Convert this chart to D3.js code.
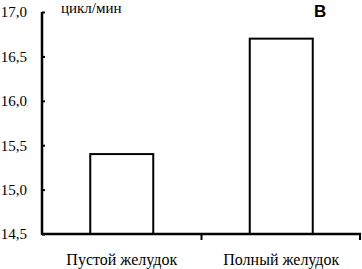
<!DOCTYPE html>
<html>
<head>
<meta charset="utf-8">
<script src="https://cdn.jsdelivr.net/npm/d3@7"></script>
<style>
  body { margin: 0; background: #fff; }
</style>
</head>
<body>
<div id="chart"></div>
<script>
let categories = ["Пустой желудок", "Полный желудок"];
let values = [15.4, 16.7];
let yTicks = [14.5, 15.0, 15.5, 16.0, 16.5, 17.0];

let serif = "'Liberation Serif', 'Times New Roman', serif";

let svg = d3.select("#chart")
              .append("svg")
                .attr("width", 362)
                .attr("height", 269)
;

let x = d3.scaleBand()
            .domain(categories)
            .range([42, 361])
;

let y = d3.scaleLinear()
            .domain([14.5, 17])
            .range([234, 12])
;

let barW = 63;

// bars
svg.selectAll("rect.bar")
    .data(values)
    .enter()
    .append("rect")
      .attr("class", "bar")
      .attr("x", (d, i) => x(categories[i]) + x.bandwidth() / 2 - barW / 2)
      .attr("y", d => y(d))
      .attr("width", barW)
      .attr("height", d => y(14.5) - y(d))
      .attr("fill", "white")
      .attr("stroke", "black")
      .attr("stroke-width", 2)
;

// y axis
let yAxis = d3.axisRight(y)
                .tickValues(yTicks)
                .tickSize(3)
                .tickFormat(d => d3.format(".1f")(d).replace(".", ","))
;
let gy = svg.append("g")
              .attr("transform", "translate(42,0)")
              .call(yAxis)
;
gy.select(".domain").attr("stroke-width", 2.5).attr("d", "M0," + y(17) + "V" + (y(14.5) + 1));
gy.selectAll(".tick line").attr("stroke-width", 2);
gy.selectAll(".tick text")
    .attr("x", -15)
    .attr("text-anchor", "end")
    .attr("fill", "black")
    .style("font-family", serif)
    .style("font-size", "15px")
;

// x axis
let xAxis = d3.axisBottom(x).tickSize(0).tickSizeOuter(0);
let gx = svg.append("g")
              .attr("transform", "translate(0," + y(14.5) + ")")
              .call(xAxis)
;
gx.select(".domain").attr("stroke-width", 2.5).attr("d", "M42,0H361");
gx.selectAll(".tick text")
    .attr("y", 20)
    .attr("fill", "black")
    .style("font-family", serif)
    .style("font-size", "16px")
;

// category boundary ticks
let bounds = [x(categories[1]), x.range()[1] - 1];
svg.selectAll("line.sep")
    .data(bounds)
    .enter()
    .append("line")
      .attr("class", "sep")
      .attr("x1", d => d)
      .attr("x2", d => d)
      .attr("y1", y(14.5))
      .attr("y2", y(14.5) + 6)
      .attr("stroke", "black")
      .attr("stroke-width", 2)
;

// unit label
svg.append("text")
    .attr("x", 61)
    .attr("y", 13)
    .style("font-family", serif)
    .style("font-size", "15px")
    .text("цикл/мин")
;

// panel letter
svg.append("text")
    .attr("x", 314)
    .attr("y", 17)
    .style("font-family", "'Liberation Sans', Arial, sans-serif")
    .style("font-size", "17px")
    .style("font-weight", "bold")
    .text("B")
;
</script>
</body>
</html>
